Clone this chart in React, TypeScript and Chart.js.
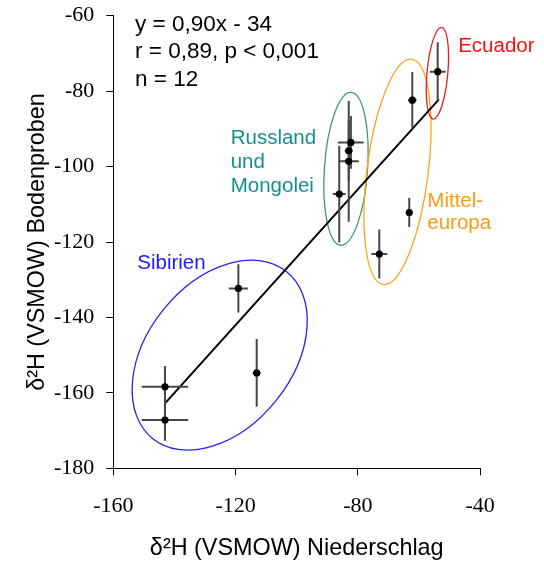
import React, { useEffect, useRef } from "react";
import { Chart, registerables } from "chart.js";

Chart.register(...registerables);

// ---- data ----
const pointX = [-143.1, -143.1, -119.1, -113.1, -86.1, -83.0, -83.0, -82.3, -73.0, -63.2, -62.2, -53.9];
const pointY = [-158.4, -167.2, -132.3, -154.7, -107.3, -98.6, -95.8, -93.6, -123.2, -112.2, -82.4, -74.85];
const errX = [7.6, 7.6, 3.1, 1.3, 2.1, 3.3, 1.3, 4.2, 2.6, 0.8, 1.4, 2.6];
const errY = [5.5, 5.5, 6.4, 9.0, 12.8, 16.0, 8.0, 7.0, 6.5, 3.85, 7.5, 7.8];

const fitX = [-143.1, -53.5];
const fitY = [-162.8, -82.2];

const xTicks = [-160, -120, -80, -40];
const yTicks = [-180, -160, -140, -120, -100, -80, -60];

const groupNames = [["Sibirien"], ["Russland", "und", "Mongolei"], ["Mittel-", "europa"], ["Ecuador"]];
const groupCX = [-125.2, -83.9, -67.05, -54.0];
const groupCY = [-150.0, -100.6, -101.4, -75.25];
const groupRX = [35.0, 7.06, 10.0, 3.4];
const groupRY = [19.2, 20.3, 30.1, 12.2];
const groupRot = [-51.3, 3.9, 7.2, 5.2];
const labelX = [-152.15, -121.6, -57.3, -47.2];
const labelY = [-127.2, -94.0, -110.6, -69.7];

const statsLines = ["y = 0,90x - 34", "r = 0,89, p < 0,001", "n = 12"];
const statsX = -152.9;
const statsY = -63.98;

const xTitle = "δ²H (VSMOW) Niederschlag";
const yTitle = "δ²H (VSMOW) Bodenproben";

// ---- styles ----
const ellipseColors = ["#2323f2", "#3a9c6e", "#ffa31a", "#f21c1c"];
const textColors = ["#1a1aff", "#138f8c", "#ff9a10", "#ff1010"];
const labelLineGap = [0, 24, 22.5, 0];
const SANS = "'Liberation Sans', Arial, sans-serif";
const SERIF = "'Liberation Serif', 'Times New Roman', serif";

const groupsPlugin = {
  id: "groupsPlugin",
  beforeDatasetsDraw(chart: any) {
    const { ctx, scales } = chart;
    const xs = scales.x;
    const ys = scales.y;
    const pxX = Math.abs(xs.getPixelForValue(1) - xs.getPixelForValue(0));
    const pxY = Math.abs(ys.getPixelForValue(1) - ys.getPixelForValue(0));
    ctx.save();
    for (let i = 0; i < groupCX.length; i++) {
      ctx.beginPath();
      ctx.ellipse(
        xs.getPixelForValue(groupCX[i]),
        ys.getPixelForValue(groupCY[i]),
        groupRX[i] * pxX,
        groupRY[i] * pxY,
        (groupRot[i] * Math.PI) / 180,
        0,
        Math.PI * 2
      );
      ctx.strokeStyle = ellipseColors[i];
      ctx.lineWidth = 1.3;
      ctx.stroke();
    }
    ctx.restore();
  },
  beforeDatasetDraw(chart: any, args: any) {
    if (args.index !== 0) return;
    const { ctx, scales } = chart;
    const xs = scales.x;
    const ys = scales.y;
    ctx.save();
    ctx.strokeStyle = "#474747";
    ctx.lineWidth = 2;
    for (let i = 0; i < pointX.length; i++) {
      const px = xs.getPixelForValue(pointX[i]);
      const py = ys.getPixelForValue(pointY[i]);
      ctx.beginPath();
      ctx.moveTo(xs.getPixelForValue(pointX[i] - errX[i]), py);
      ctx.lineTo(xs.getPixelForValue(pointX[i] + errX[i]), py);
      ctx.moveTo(px, ys.getPixelForValue(pointY[i] - errY[i]));
      ctx.lineTo(px, ys.getPixelForValue(pointY[i] + errY[i]));
      ctx.stroke();
    }
    ctx.restore();
  },
  afterDatasetsDraw(chart: any) {
    const { ctx, scales } = chart;
    const xs = scales.x;
    const ys = scales.y;
    ctx.save();
    ctx.textBaseline = "alphabetic";
    ctx.textAlign = "left";
    ctx.font = `20.5px ${SANS}`;
    for (let i = 0; i < groupNames.length; i++) {
      ctx.fillStyle = textColors[i];
      const lx = xs.getPixelForValue(labelX[i]);
      const ly = ys.getPixelForValue(labelY[i]);
      groupNames[i].forEach((t, j) => ctx.fillText(t, lx, ly + j * labelLineGap[i]));
    }
    ctx.font = `22.5px ${SANS}`;
    ctx.fillStyle = "#000";
    const sx = xs.getPixelForValue(statsX);
    const sy = ys.getPixelForValue(statsY);
    statsLines.forEach((t, j) => ctx.fillText(t, sx, sy + j * 27.6));
    ctx.restore();
  },
};

export default function App() {
  const ref = useRef<HTMLCanvasElement | null>(null);
  useEffect(() => {
    if (!ref.current) return;
    const chart = new Chart(ref.current, {
      type: "scatter",
      data: {
        datasets: [
          {
            label: "Proben",
            data: pointX.map((v, i) => ({ x: v, y: pointY[i] })),
            pointRadius: 3.6,
            pointHoverRadius: 3.6,
            backgroundColor: "#000",
            borderWidth: 0,
          },
          {
            label: "Regression",
            type: "line",
            data: fitX.map((v, i) => ({ x: v, y: fitY[i] })),
            showLine: true,
            pointRadius: 0,
            borderColor: "#000",
            borderWidth: 2,
            fill: false,
          } as any,
        ],
      },
      options: {
        responsive: false,
        animation: false,
        devicePixelRatio: 1,
        layout: { padding: { top: 15.7, right: 63.8, bottom: 0, left: 0 } },
        plugins: { legend: { display: false }, tooltip: { enabled: false } },
        scales: {
          x: {
            type: "linear",
            min: -160,
            max: -40,
            afterBuildTicks: (s: any) => {
              s.ticks = xTicks.map((v) => ({ value: v }));
            },
            afterFit: (s: any) => {
              s.height = 95.7;
              s.paddingLeft = 0;
              s.paddingRight = 0;
            },
            ticks: {
              color: "#000",
              font: { family: SERIF, size: 22 },
              padding: 18,
              callback: (v: any) => String(v),
            },
            grid: { drawOnChartArea: false, drawTicks: true, tickLength: 7, color: "#000", lineWidth: 1 },
            border: { display: true, color: "#000", width: 1 },
            title: {
              display: true,
              text: xTitle,
              color: "#000",
              font: { family: SANS, size: 23.4 },
              padding: { top: 0, bottom: 1 },
            },
          },
          y: {
            type: "linear",
            min: -180,
            max: -60,
            afterBuildTicks: (s: any) => {
              s.ticks = yTicks.map((v) => ({ value: v }));
            },
            afterFit: (s: any) => {
              s.width = 113.3;
              s.paddingTop = 0;
              s.paddingBottom = 0;
            },
            ticks: {
              color: "#000",
              font: { family: SERIF, size: 22 },
              padding: 12,
              callback: (v: any) => String(v),
            },
            grid: { drawOnChartArea: false, drawTicks: true, tickLength: 7, color: "#000", lineWidth: 1 },
            border: { display: true, color: "#000", width: 1 },
            title: {
              display: true,
              text: yTitle,
              color: "#000",
              font: { family: SANS, size: 23.4 },
              padding: { top: 24, bottom: 0 },
            },
          },
        },
      },
      plugins: [groupsPlugin],
    });
    return () => chart.destroy();
  }, []);
  return (
    <div style={{ position: "absolute", left: 0, top: 0, width: 544, height: 564, background: "#fff" }}>
      <canvas ref={ref} width={544} height={564} style={{ display: "block" }} />
    </div>
  );
}
